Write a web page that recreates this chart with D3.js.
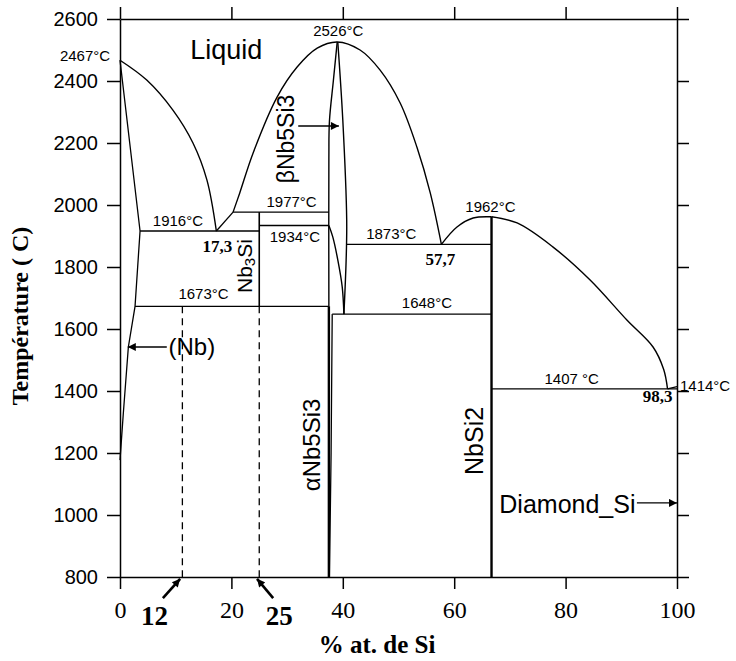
<!DOCTYPE html>
<html>
<head>
<meta charset="utf-8">
<script src="https://cdn.jsdelivr.net/npm/d3@7"></script>
<style>
  body { margin: 0; background: #fff; }
  text { fill: #000; }
</style>
</head>
<body>
<div id="main"></div>
<script>
// tick labels
var xTicks = [0, 20, 40, 60, 80, 100];
var yTicks = [800, 1000, 1200, 1400, 1600, 1800, 2000, 2200, 2400, 2600];

// phase boundaries, [at.% Si, temperature]
var nbLiquidus = [[0, 2467], [4.8, 2403], [9.5, 2306], [13.1, 2200], [15.6, 2081], [17.3, 1916]];
var nbSolidus = [[0, 2467], [3.6, 1916], [2.7, 1673], [1.5, 1542], [0.6, 1329], [0, 1177]];
var nb3siLiquidus = [[17.3, 1916], [20.3, 1977]];
var nb5si3Liquidus = [[20.3, 1977], [21.5, 2039], [23.9, 2168], [28.2, 2348], [31.8, 2445], [35.4, 2506], [39, 2526],
  [43.1, 2500], [46.7, 2435], [50.3, 2329], [53.3, 2187], [55.7, 2039], [57.7, 1873]];
var betaLeft = [[39, 2526], [38.3, 2400], [37.6, 2270], [37.5, 2150], [37.5, 1673]];
var betaRight = [[39.1, 2526], [40.0, 2274], [40.7, 1952], [40.6, 1823], [40.2, 1648]];
var betaAlpha = [[37.5, 1934], [38.2, 1897], [39.1, 1823], [39.9, 1735], [40.2, 1648]];
var alphaLeft = [[37.5, 1673], [37.5, 800]];
var alphaRight = [[38.1, 1648], [37.9, 1200], [37.6, 800]];
var nbsi2Liquidus = [[57.7, 1873], [60.5, 1929], [63.4, 1958], [66.7, 1962]];
var siLiquidus = [[66.7, 1962], [71.3, 1942], [77.7, 1865], [84.4, 1758], [91.0, 1629], [95.7, 1542], [97.6, 1470], [98.3, 1407]];
var siMelt = [[98.3, 1407], [100, 1414]];

// invariant lines
var isoT = [1916, 1977, 1934, 1673, 1873, 1648, 1407];
var isoFrom = [3.6, 20.3, 25, 2.7, 40.7, 38.1, 66.7];
var isoTo = [25, 37.5, 37.5, 37.5, 66.7, 66.7, 100];

// line compounds
var compoundX = [25, 66.7];
var compoundBottom = [1673, 800];
var compoundTop = [1977, 1962];

// studied alloys (dashed)
var alloyX = [11.2, 25];

var width = 736, height = 661;

var svg = d3.select('#main').append('svg').attr('width', width).attr('height', height);

var x = d3.scaleLinear().domain([0, 100]).range([120, 677]);
var y = d3.scaleLinear().domain([800, 2600]).range([577, 19]);

var sans = 'Liberation Sans, Arial, sans-serif';
var serif = 'Liberation Serif, Times New Roman, serif';

svg.append('defs').append('marker')
  .attr('id', 'head')
  .attr('viewBox', '0 0 10 10')
  .attr('refX', 10).attr('refY', 5)
  .attr('markerWidth', 10).attr('markerHeight', 8)
  .attr('markerUnits', 'userSpaceOnUse')
  .attr('orient', 'auto')
  .append('path').attr('d', 'M0,0L10,5L0,10Z').attr('fill', '#000');

// axes
var bottom = svg.append('g')
  .attr('transform', 'translate(0,' + y(800) + ')')
  .call(d3.axisBottom(x).tickValues(xTicks).tickSize(12).tickSizeOuter(0));
bottom.selectAll('text')
  .attr('y', 41).attr('dy', null)
  .attr('font-family', serif).attr('font-size', 24);

svg.append('g')
  .attr('transform', 'translate(0,' + y(2600) + ')')
  .call(d3.axisTop(x).tickValues(xTicks).tickSize(12).tickSizeOuter(0).tickFormat(''));

var left = svg.append('g')
  .attr('transform', 'translate(' + x(0) + ',0)')
  .call(d3.axisLeft(y).tickValues(yTicks).tickFormat(d3.format('d')).tickSize(13).tickPadding(9).tickSizeOuter(0));
left.selectAll('text').attr('font-family', sans).attr('font-size', 20);

svg.append('g')
  .attr('transform', 'translate(' + x(100) + ',0)')
  .call(d3.axisRight(y).tickValues(yTicks).tickSize(12).tickSizeOuter(0).tickFormat(''));

svg.selectAll('.domain, .tick line').attr('stroke', '#000').attr('stroke-width', 1.5);

// phase boundaries
var line = d3.line()
  .x(function (d) { return x(d[0]); })
  .y(function (d) { return y(d[1]); });

var smooth = d3.line()
  .x(function (d) { return x(d[0]); })
  .y(function (d) { return y(d[1]); })
  .curve(d3.curveCatmullRom.alpha(0.5));

var plot = svg.append('g').attr('fill', 'none').attr('stroke', '#000');

[nbLiquidus, nb5si3Liquidus, betaLeft, betaRight, betaAlpha, nbsi2Liquidus, siLiquidus].forEach(function (pts) {
  plot.append('path').attr('d', smooth(pts)).attr('stroke-width', 1.4);
});

[nbSolidus, nb3siLiquidus, alphaRight, siMelt].forEach(function (pts) {
  plot.append('path').attr('d', line(pts)).attr('stroke-width', 1.3);
});

plot.append('path').attr('d', line(alphaLeft)).attr('stroke-width', 2.4);

isoT.forEach(function (t, i) {
  plot.append('line')
    .attr('x1', x(isoFrom[i])).attr('x2', x(isoTo[i]))
    .attr('y1', y(t)).attr('y2', y(t))
    .attr('stroke-width', 1.4);
});

compoundX.forEach(function (c, i) {
  plot.append('line')
    .attr('x1', x(c)).attr('x2', x(c))
    .attr('y1', y(compoundBottom[i])).attr('y2', y(compoundTop[i]))
    .attr('stroke-width', i === 1 ? 2.4 : 1.6);
});

alloyX.forEach(function (c) {
  plot.append('line')
    .attr('x1', x(c)).attr('x2', x(c))
    .attr('y1', y(1673)).attr('y2', y(800))
    .attr('stroke-width', 1.3)
    .attr('stroke-dasharray', '7,5');
});

// temperature labels: [text, x, T, dx, dy]
var tempLabels = [
  ['2467°C', 0, 2467, -35, 1],
  ['2526°C', 39, 2526, 1, -6],
  ['1916°C', 10.4, 1916, 0, -5],
  ['1977°C', 30.8, 1977, 0, -5],
  ['1934°C', 31.4, 1934, 0, 16.5],
  ['1673°C', 15.0, 1673, 0, -7],
  ['1873°C', 48.7, 1873, 0, -5],
  ['1648°C', 55.1, 1648, 0, -6],
  ['1962°C', 66.5, 1962, 0, -5],
  ['1407 °C', 81.1, 1407, 0, -5]
];

svg.selectAll('.tlabel')
  .data(tempLabels)
  .enter()
  .append('text')
  .attr('x', function (d) { return x(d[1]) + d[3]; })
  .attr('y', function (d) { return y(d[2]) + d[4]; })
  .attr('text-anchor', 'middle')
  .attr('font-family', sans)
  .attr('font-size', 15)
  .text(function (d) { return d[0]; });

svg.append('text')
  .attr('x', x(100) + 3).attr('y', y(1414) + 4)
  .attr('font-family', sans).attr('font-size', 15)
  .text('1414°C');

// eutectic compositions
var eutectics = [[17.3, 1916, 1, 21], [57.7, 1873, -1, 21], [98.3, 1407, -10, 13]];

svg.selectAll('.elabel')
  .data(eutectics)
  .enter()
  .append('text')
  .attr('x', function (d) { return x(d[0]) + d[2]; })
  .attr('y', function (d) { return y(d[1]) + d[3]; })
  .attr('text-anchor', 'middle')
  .attr('font-family', serif)
  .attr('font-weight', 'bold')
  .attr('font-size', 17)
  .text(function (d) { return String(d[0]).replace('.', ','); });

// phase names
svg.append('text')
  .attr('x', x(12.6)).attr('y', y(2467) - 1)
  .attr('font-family', sans).attr('font-size', 27)
  .text('Liquid');

svg.append('text')
  .attr('x', x(8.7)).attr('y', y(1542) + 8)
  .attr('font-family', sans).attr('font-size', 24)
  .text('(Nb)');

svg.append('text')
  .attr('x', x(68.1)).attr('y', y(1039) + 10)
  .attr('font-family', sans).attr('font-size', 25)
  .text('Diamond_Si');

function vlabel(parts, px, py, size) {
  var t = svg.append('text')
    .attr('transform', 'translate(' + px + ',' + py + ') rotate(-90)')
    .attr('text-anchor', 'middle')
    .attr('font-family', sans)
    .attr('font-size', size);
  parts.forEach(function (p) {
    var s = t.append('tspan').text(p[0]);
    if (p[1]) s.attr('font-size', size * 0.72).attr('dy', size * 0.12);
    else if (p[2]) s.attr('dy', -size * 0.12);
  });
}

vlabel([['βNb5Si3']], x(31.2), y(2213), 23);
vlabel([['αNb5Si3']], x(35.9), y(1226), 24);
vlabel([['NbSi2']], x(65.2), y(1239), 25);
vlabel([['Nb'], ['3', true], ['Si', false, true]], x(23.7), y(1803), 21);

// arrows
var arrows = [
  [[8.4, 1542], [1.4, 1542]],
  [[32.0, 2255], [39.3, 2255]],
  [[92.8, 1039], [100, 1039]],
  [[7.7, 732], [10.8, 794]],
  [[27.5, 732], [24.6, 794]]
];

arrows.forEach(function (a, i) {
  svg.append('line')
    .attr('x1', x(a[0][0])).attr('y1', y(a[0][1]))
    .attr('x2', x(a[1][0])).attr('y2', y(a[1][1]))
    .attr('stroke', '#000')
    .attr('stroke-width', i > 2 ? 2.6 : 1.4)
    .attr('marker-end', 'url(#head)');
});

// alloy compositions below the axis
[['12', 6.2], ['25', 28.6]].forEach(function (d) {
  svg.append('text')
    .attr('x', x(d[1])).attr('y', y(800) + 48)
    .attr('text-anchor', 'middle')
    .attr('font-family', serif).attr('font-weight', 'bold').attr('font-size', 27)
    .text(d[0]);
});

// axis titles
svg.append('text')
  .attr('x', 377).attr('y', 653)
  .attr('text-anchor', 'middle')
  .attr('font-family', serif).attr('font-weight', 'bold').attr('font-size', 25)
  .text('% at. de Si');

svg.append('text')
  .attr('transform', 'translate(28,316) rotate(-90)')
  .attr('text-anchor', 'middle')
  .attr('font-family', serif).attr('font-weight', 'bold').attr('font-size', 24)
  .text('Température ( C)');
</script>
</body>
</html>
